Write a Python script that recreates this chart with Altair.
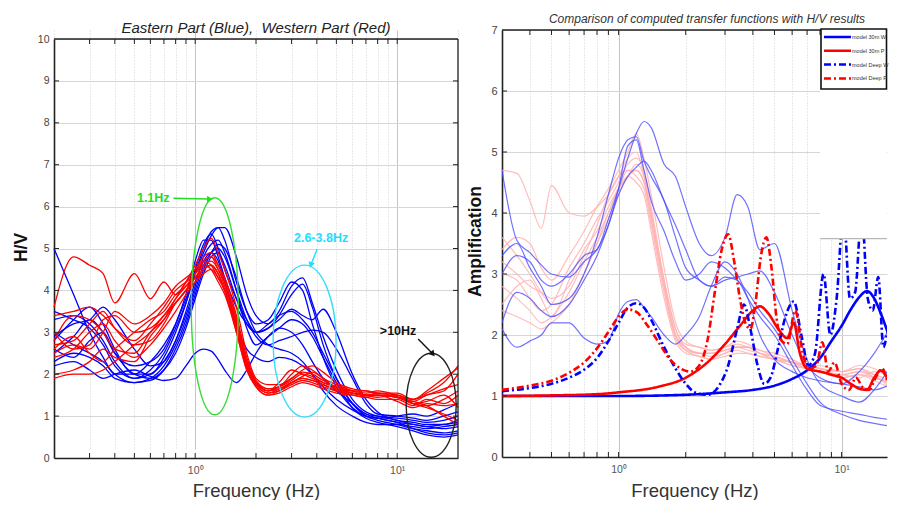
import altair as alt
import pandas as pd

FONT = "Liberation Sans"

# ---------------- LEFT PANEL DATA (H/V curves) ----------------
L_FREQ = [0.2, 0.25, 0.3, 0.35, 0.4, 0.5, 0.6, 0.7, 0.8, 0.9,
          1.0, 1.1, 1.2, 1.3, 1.4, 1.6, 1.8, 2.0, 2.3, 2.6,
          3.0, 3.4, 3.8, 4.3, 5, 6, 7, 8, 10, 12, 14, 17, 20]

L_EAST = [
    [5.0, 3.9, 3.0, 2.4, 2.0, 2.0, 2.3, 2.7, 3.2, 3.8,
     4.4, 4.9, 5.3, 5.5, 5.5, 4.8, 3.9, 3.4, 3.2, 3.5,
     4.1, 4.3, 3.7, 2.9, 2.1, 1.4, 1.1, 1.0, 0.9, 0.8, 0.75, 0.7, 0.75],
    [3.5, 3.3, 3.1, 2.7, 2.2, 1.9, 2.1, 2.5, 3.1, 3.7,
     4.4, 5.0, 5.4, 5.5, 5.2, 4.2, 3.5, 3.2, 3.3, 3.7,
     4.2, 4.0, 3.2, 2.4, 1.7, 1.2, 1.0, 0.95, 0.85, 0.7, 0.6, 0.55, 0.6],
    [2.8, 3.3, 3.6, 3.2, 2.6, 2.0, 2.0, 2.4, 3.0, 3.7,
     4.5, 5.1, 5.35, 5.0, 4.5, 3.8, 3.3, 3.0, 3.1, 3.3,
     3.55, 3.4, 3.3, 3.55, 3.0, 2.0, 1.4, 1.1, 0.9, 0.85, 0.8, 0.8, 0.9],
    [2.5, 2.9, 3.3, 3.0, 2.5, 2.2, 2.3, 2.6, 3.2, 3.9,
     4.7, 5.2, 5.2, 4.8, 4.3, 3.6, 3.2, 3.0, 3.2, 3.4,
     3.5, 3.3, 3.0, 2.5, 1.9, 1.3, 1.0, 0.9, 0.8, 0.7, 0.65, 0.6, 0.65],
    [2.3, 2.5, 2.4, 2.2, 1.9, 1.8, 1.9, 2.2, 2.7, 3.3,
     4.0, 4.6, 4.9, 5.0, 4.8, 4.0, 3.3, 2.9, 2.7, 2.8,
     2.9, 3.0, 3.05, 3.0, 2.6, 1.9, 1.3, 1.05, 1.0, 0.95, 0.9, 1.0, 1.1],
    [3.3, 3.4, 3.2, 2.8, 2.3, 1.9, 2.0, 2.3, 2.8, 3.5,
     4.2, 4.7, 4.9, 4.7, 4.2, 3.2, 2.6, 2.4, 2.3, 2.4,
     2.35, 2.2, 2.0, 1.7, 1.4, 1.15, 1.0, 0.95, 1.0, 1.05, 1.0, 1.15, 1.3],
    [2.9, 3.2, 3.3, 3.6, 3.3, 2.6, 2.2, 2.3, 2.8, 3.4,
     4.1, 4.8, 5.1, 5.2, 4.9, 4.0, 3.1, 2.7, 2.9, 3.1,
     3.3, 3.2, 2.9, 2.4, 1.8, 1.2, 0.95, 0.85, 0.75, 0.65, 0.55, 0.5, 0.55],
    [3.0, 2.7, 2.5, 2.3, 2.0, 1.8, 1.85, 2.1, 2.6, 3.2,
     3.9, 4.5, 4.9, 5.1, 5.0, 4.3, 3.5, 3.0, 2.7, 2.6,
     2.5, 2.3, 2.0, 1.6, 1.25, 1.0, 0.85, 0.8, 0.8, 0.75, 0.7, 0.75, 0.8],
    [2.6, 2.4, 2.8, 3.0, 2.5, 2.0, 1.9, 2.1, 2.5, 3.1,
     3.8, 4.4, 4.8, 4.9, 4.6, 3.8, 3.2, 3.0, 3.1, 3.4,
     3.9, 4.15, 3.6, 2.7, 1.9, 1.3, 1.05, 0.95, 0.85, 0.8, 0.75, 0.8, 0.85],
    [2.2, 2.3, 2.1, 1.9, 2.0, 2.1, 1.95, 1.85, 1.9, 2.2,
     2.5, 2.6, 2.55, 2.35, 2.1, 1.8, 2.1, 2.5, 2.9, 3.1,
     3.0, 2.7, 2.3, 1.9, 1.6, 1.3, 1.05, 1.0, 0.95, 0.9, 0.85, 0.9, 1.0],
]

L_WEST = [
    [3.6, 4.8, 4.6, 4.4, 3.7, 4.4, 3.8, 4.2, 3.9, 4.2,
     4.6, 5.0, 5.25, 4.9, 4.5, 3.6, 2.5, 1.9, 1.75, 1.75,
     1.9, 2.1, 2.2, 2.05, 1.8, 1.65, 1.6, 1.55, 1.55, 1.4, 1.55, 1.8, 2.2],
    [2.8, 3.4, 3.3, 3.0, 2.6, 2.5, 3.0, 3.3, 3.7, 4.0,
     4.4, 4.7, 4.8, 4.6, 4.2, 3.3, 2.3, 1.8, 1.65, 1.7,
     2.0, 2.2, 2.1, 1.9, 1.75, 1.6, 1.5, 1.5, 1.45, 1.35, 1.5, 1.6, 2.0],
    [2.6, 2.9, 2.5, 2.3, 2.6, 3.0, 3.3, 3.5, 3.9, 4.1,
     4.3, 4.5, 4.6, 4.4, 4.0, 3.1, 2.2, 1.75, 1.55, 1.6,
     1.8, 1.9, 1.85, 1.75, 1.6, 1.55, 1.5, 1.45, 1.5, 1.3, 1.25, 1.4, 1.6],
    [2.0, 2.1, 2.3, 2.6, 2.4, 2.3, 2.9, 3.3, 3.8, 4.2,
     4.5, 4.7, 4.6, 4.3, 4.0, 3.0, 2.1, 1.7, 1.5, 1.55,
     1.7, 1.8, 1.75, 1.65, 1.55, 1.5, 1.45, 1.5, 1.35, 1.2, 1.3, 1.25, 1.3],
    [2.7, 2.8, 3.2, 3.5, 3.1, 2.7, 2.8, 3.2, 3.7, 4.0,
     4.3, 4.6, 4.7, 4.5, 4.1, 3.2, 2.3, 1.8, 1.6, 1.8,
     2.1, 2.0, 1.9, 1.8, 1.7, 1.6, 1.55, 1.6, 1.5, 1.4, 1.6, 1.9, 2.15],
    [2.4, 2.6, 3.0, 3.2, 2.8, 2.4, 2.7, 3.1, 3.5, 3.9,
     4.2, 4.5, 4.6, 4.4, 4.0, 3.1, 2.2, 1.75, 1.55, 1.65,
     1.8, 1.95, 2.05, 1.9, 1.65, 1.55, 1.5, 1.55, 1.45, 1.3, 1.2, 1.05, 0.9],
    [3.0, 2.6, 2.7, 3.3, 3.4, 3.0, 3.1, 3.4, 3.8, 4.1,
     4.4, 4.6, 4.5, 4.2, 3.9, 3.0, 2.1, 1.7, 1.5, 1.6,
     1.75, 1.85, 1.8, 1.7, 1.6, 1.5, 1.45, 1.4, 1.4, 1.25, 1.4, 1.3, 1.5],
    [1.9, 2.0, 2.0, 2.1, 2.3, 2.7, 3.0, 3.4, 3.7, 4.0,
     4.2, 4.4, 4.5, 4.3, 4.0, 3.1, 2.2, 1.8, 1.6, 1.7,
     1.9, 2.05, 2.0, 1.85, 1.7, 1.55, 1.5, 1.5, 1.45, 1.35, 1.25, 1.0, 0.8],
    [2.5, 2.7, 2.6, 3.0, 3.5, 3.2, 3.4, 3.7, 4.1, 4.3,
     4.5, 4.8, 4.9, 4.6, 4.3, 3.4, 2.4, 1.85, 1.65, 1.7,
     1.85, 2.0, 1.95, 1.8, 1.7, 1.6, 1.6, 1.55, 1.5, 1.4, 1.5, 1.65, 1.75],
    [3.4, 3.5, 3.6, 3.4, 3.1, 2.8, 3.2, 3.6, 4.0, 4.2,
     4.4, 4.7, 4.8, 4.5, 4.2, 3.3, 2.3, 1.8, 1.6, 1.65,
     1.8, 1.9, 1.85, 1.75, 1.65, 1.55, 1.5, 1.5, 1.45, 1.3, 1.35, 1.5, 1.2],
]

# annotation values (left panel); the last ellipse is anchored at its left edge
ELL_F = [1.25, 3.48, 11.08]
ELL_V = [3.62, 2.79, 1.26]
ELL_COLOR = ["#33dd33", "#33ddff", "#222222"]
ANN_TEXT = ["1.1Hz", "2.6-3.8Hz", ">10Hz"]
ANN_TEXT_F = [0.62, 4.2, 10.1]
ANN_TEXT_V = [6.2, 5.25, 3.03]
ANN_TEXT_COLOR = ["#22dd22", "#22ddff", "#111111"]
ARROW_F0 = [0.78, 4.02, 12.7]
ARROW_V0 = [6.2, 4.99, 2.84]
ARROW_F1 = [1.17, 3.75, 14.9]
ARROW_V1 = [6.18, 4.63, 2.5]

# ---------------- RIGHT PANEL DATA ----------------
R_FREQ = [0.3, 0.35, 0.4, 0.45, 0.5, 0.6, 0.7, 0.8, 0.9,
          1.0, 1.1, 1.2, 1.3, 1.4, 1.6, 1.8, 2.0, 2.3, 2.6,
          3.0, 3.4, 3.8, 4.3, 5, 6, 7, 8, 10, 12, 14, 17, 19]

R_HV_EAST = [
    [3.0, 3.3, 3.2, 2.9, 2.8, 3.0, 3.3, 3.4, 3.9,
     4.4, 4.9, 5.3, 5.5, 5.4, 4.8, 4.6, 4.1, 3.5, 3.3,
     3.6, 4.3, 4.1, 3.4, 3.5, 2.4, 1.6, 1.2, 1.0, 0.9, 1.1, 1.6, 2.1],
    [4.7, 3.55, 3.35, 3.15, 3.0, 2.95, 3.2, 3.4, 3.8,
     4.4, 5.1, 5.2, 4.7, 4.2, 3.7, 3.2, 2.9, 3.0, 3.2,
     3.1, 2.9, 2.7, 2.4, 2.1, 1.6, 1.2, 0.9, 0.7, 0.6, 0.55, 0.5, 0.48],
    [3.3, 3.5, 3.1, 2.8, 2.5, 2.6, 3.0, 3.6, 4.3,
     4.9, 5.2, 5.25, 4.85, 4.6, 4.2, 3.6, 3.1, 2.9, 2.8,
     2.95, 2.9, 2.6, 2.3, 2.0, 1.5, 1.1, 0.85, 0.75, 0.7, 0.65, 0.6, 0.55],
    [2.2, 2.7, 2.6, 2.4, 2.3, 2.5, 2.9, 3.3, 3.8,
     4.3, 4.6, 4.75, 4.85, 4.7, 4.2, 3.8, 3.4, 2.9, 2.8,
     2.9, 2.95, 3.0, 3.05, 2.7, 2.0, 1.5, 1.3, 1.2, 1.4, 1.7, 2.2, 2.5],
    [2.1, 1.8, 1.9, 2.0, 2.2, 2.2, 1.95, 1.85, 1.9,
     2.35, 2.55, 2.58, 2.45, 2.3, 2.0, 1.85, 2.0, 2.3, 2.8,
     3.2, 3.0, 2.6, 2.0, 1.6, 1.4, 1.3, 1.25, 1.2, 1.15, 1.1, 1.2, 1.25],
]

R_HV_WEST = [
    [4.7, 4.65, 4.2, 3.75, 4.45, 4.0, 3.95, 4.1, 4.3,
     4.6, 4.9, 5.0, 4.6, 4.0, 2.9, 2.1, 1.85, 1.8, 1.75,
     1.8, 1.9, 1.85, 1.75, 1.7, 1.6, 1.5, 1.5, 1.4, 1.45, 1.35, 1.1, 1.0],
    [3.4, 3.6, 3.5, 3.1, 2.9, 3.3, 3.7, 4.1, 4.4,
     4.7, 5.0, 5.3, 4.9, 4.3, 3.1, 2.2, 1.9, 1.8, 1.75,
     1.8, 1.85, 1.8, 1.7, 1.65, 1.55, 1.5, 1.45, 1.4, 1.45, 1.3, 1.2, 1.1],
    [3.0, 2.9, 2.6, 2.4, 2.5, 3.1, 3.5, 3.9, 4.2,
     4.5, 4.8, 4.9, 4.7, 4.1, 2.9, 2.1, 1.8, 1.7, 1.7,
     1.75, 1.8, 1.8, 1.7, 1.6, 1.55, 1.45, 1.4, 1.35, 1.3, 1.4, 1.3, 1.0],
    [2.5, 2.8, 2.9, 2.6, 2.3, 2.9, 3.4, 3.7, 4.1,
     4.4, 4.6, 4.8, 4.6, 4.0, 2.8, 2.0, 1.75, 1.65, 1.6,
     1.7, 1.75, 1.7, 1.65, 1.6, 1.5, 1.45, 1.4, 1.3, 1.35, 1.25, 1.1, 0.95],
    [3.2, 3.0, 2.8, 2.7, 2.6, 2.8, 3.3, 3.8, 4.3,
     4.6, 4.7, 4.6, 4.4, 3.8, 2.7, 1.95, 1.75, 1.7, 1.7,
     1.75, 1.8, 1.75, 1.7, 1.6, 1.55, 1.5, 1.45, 1.4, 1.5, 1.45, 1.25, 1.05],
    [2.8, 2.6, 2.4, 2.2, 2.3, 2.7, 3.2, 3.6, 4.0,
     4.4, 4.7, 4.7, 4.5, 3.9, 2.8, 2.0, 1.8, 1.7, 1.65,
     1.7, 1.8, 1.8, 1.75, 1.65, 1.55, 1.5, 1.45, 1.35, 1.4, 1.3, 1.15, 0.9],
    [3.6, 3.3, 3.0, 2.7, 2.5, 2.6, 3.0, 3.5, 4.0,
     4.4, 4.6, 4.5, 4.3, 3.7, 2.6, 1.9, 1.7, 1.65, 1.6,
     1.65, 1.7, 1.7, 1.65, 1.6, 1.5, 1.45, 1.4, 1.3, 1.35, 1.3, 1.2, 0.95],
    [2.4, 2.3, 2.2, 2.1, 2.2, 2.5, 3.0, 3.5, 3.9,
     4.3, 4.6, 4.7, 4.5, 3.9, 2.8, 2.0, 1.8, 1.7, 1.7,
     1.75, 1.8, 1.8, 1.7, 1.65, 1.55, 1.45, 1.4, 1.35, 1.4, 1.35, 1.2, 1.0],
]

MODEL_NAMES = ["model 30m W", "model 30m P", "model Deep W", "model Deep P"]
MODEL_COLORS = ["#0000ff", "#ff0000", "#0000ff", "#ff0000"]
MODEL_DASH = [[1, 0], [1, 0], [7, 3, 2, 3], [7, 3, 2, 3]]

W30_F = [0.3, 0.5, 1, 2, 3, 4, 5, 6, 7, 8, 9, 10, 11, 12, 13, 14, 15, 17, 19]
W30_V = [1.0, 1.0, 1.0, 1.02, 1.06, 1.1, 1.17, 1.28, 1.42, 1.62, 1.9, 2.15, 2.42, 2.62, 2.72,
         2.6, 2.35, 1.8, 1.35]

P30_F = [0.3, 0.5, 0.8, 1.0, 1.5, 2.0, 2.5, 3.0, 3.5, 4.0, 4.3, 4.7, 5.2, 5.7, 6.1, 6.5, 7.0,
         8.0, 9.0, 10, 11, 12, 13, 14, 15, 16, 17, 18, 19]
P30_V = [1.0, 1.01, 1.03, 1.06, 1.15, 1.3, 1.55, 1.85, 2.15, 2.4, 2.47, 2.35, 2.1, 1.95, 2.2,
         1.7, 1.45, 1.4, 1.35, 1.3, 1.2, 1.12, 1.1, 1.3, 1.42, 1.3, 1.15, 1.0, 0.85]

WD_F = [0.3, 0.4, 0.5, 0.6, 0.7, 0.8, 0.9, 1.0, 1.1, 1.2, 1.3, 1.4, 1.6, 1.8, 2.0, 2.2, 2.5,
        2.8, 3.1, 3.4, 3.65, 3.9, 4.2, 4.5, 4.8, 5.2, 5.6, 6.1, 6.6, 7.1, 7.6, 8.3, 8.9, 9.5,
        10.2, 10.9, 11.5, 12.3, 13.1, 13.8, 14.6, 15.4, 16.3, 17.3, 18.2, 19]
WD_V = [1.08, 1.13, 1.2, 1.3, 1.43, 1.62, 1.9, 2.2, 2.45, 2.52, 2.45, 2.25, 1.8, 1.45, 1.2,
        1.06, 1.02, 1.15, 1.5, 2.1, 2.5, 2.1, 1.5, 1.2, 1.3, 1.8, 2.3, 2.55, 2.0, 1.5, 1.7,
        3.0, 2.0, 2.6, 4.0, 2.6, 2.7, 4.0, 2.6, 2.4, 2.95, 1.8, 2.1, 1.5, 1.3, 1.2]

PD_F = [0.3, 0.4, 0.5, 0.6, 0.7, 0.8, 0.9, 1.0, 1.1, 1.2, 1.35, 1.5, 1.7, 1.9, 2.1, 2.3, 2.5,
        2.7, 2.9, 3.1, 3.3, 3.5, 3.7, 3.9, 4.1, 4.35, 4.6, 4.85, 5.1, 5.4, 5.7, 6.2, 6.7, 7.2,
        7.7, 8.2, 8.7, 9.3, 10, 10.8, 11.6, 12.4, 13.3, 14.2, 15.2, 16.2, 17.3, 18.3, 19]
PD_V = [1.1, 1.17, 1.25, 1.38, 1.55, 1.78, 2.05, 2.3, 2.42, 2.38, 2.15, 1.9, 1.6, 1.45, 1.4,
        1.5, 1.9, 2.7, 3.4, 3.65, 3.2, 2.6, 2.2, 2.1, 2.5, 3.3, 3.6, 3.1, 2.3, 1.9, 1.85, 2.4,
        1.7, 1.45, 1.5, 1.88, 1.4, 1.55, 1.2, 1.1, 1.3, 1.15, 1.1, 1.3, 1.45, 1.2, 0.95, 0.75, 0.65]

LEFT_TICKS = [0.2, 0.3, 0.4, 0.5, 0.6, 0.7, 0.8, 0.9, 1, 2, 3, 4, 5, 6, 7, 8, 9, 10, 20]
RIGHT_TICKS = [0.3, 0.4, 0.5, 0.6, 0.7, 0.8, 0.9, 1, 2, 3, 4, 5, 6, 7, 8, 9, 10]

LEFT_TITLE = "Eastern Part (Blue),\u00a0 Western Part (Red)"
RIGHT_TITLE = "Comparison of computed transfer functions with H/V results"


def long_df(freqs, series, prefix):
    rows = []
    for i, vals in enumerate(series):
        for f, v in zip(freqs, vals):
            rows.append({"id": f"{prefix}{i}", "f": f, "v": v})
    return pd.DataFrame(rows)


def ellipse_path(ratio, dx=0.0):
    k = 0.5523
    a = ratio

    def p(x, y):
        return f"{x + dx:.4f} {y:.4f}"
    return (f"M {p(a, 0)} C {p(a, k)} {p(a*k, 1)} {p(0, 1)} C {p(-a*k, 1)} {p(-a, k)} {p(-a, 0)} "
            f"C {p(-a, -k)} {p(-a*k, -1)} {p(0, -1)} C {p(a*k, -1)} {p(a, -k)} {p(a, 0)} Z")


MAJOR = "datum.value == 1 || datum.value == 10"
LABEL_EXPR = "datum.value == 1 ? '10\u2070' : datum.value == 10 ? '10\u00b9' : ''"


def x_axis(values, title_y):
    return alt.Axis(
        values=values, labelExpr=LABEL_EXPR, labelOverlap=False, grid=True,
        gridColor={"condition": {"test": MAJOR, "value": "#c4c4c4"}, "value": "#d2d2d2"},
        gridDash={"condition": {"test": MAJOR, "value": []}, "value": [1, 2]},
        ticks=False, domainColor="#222", domainWidth=1.3, labelFont=FONT,
        labelFontSize=10.5, labelColor="#555", labelPadding=7,
        title="Frequency (Hz)", titleFont=FONT, titleFontSize=18.5,
        titleFontWeight="normal", titleColor="#333", titleY=title_y,
        titleBaseline="middle")


def y_axis(values, title, tx, ty, lsize):
    return alt.Axis(
        values=values, grid=True, gridColor="#d6d6d6", ticks=False,
        domainColor="#222", domainWidth=1.6, labelFont=FONT, labelFontSize=lsize,
        labelColor="#444", labelPadding=5, title=title, titleFont=FONT,
        titleFontSize=17.5, titleFontWeight="bold", titleColor="#111",
        titleX=tx, titleY=ty, titleBaseline="middle")


dummy = pd.DataFrame({"a": [0]})

# ================= LEFT PANEL =================
# the left plot starts TOP px lower than the right one; its y range leaves that gap
TOP = 9
LW, LH = 404, 428
LXS = alt.Scale(type="log", domain=[0.2, 20], nice=False)
LYS = alt.Scale(domain=[0, 10], nice=False, range=[LH, TOP])
LXA = x_axis(LEFT_TICKS, 32)
LYA = y_axis(list(range(0, 11)), "H/V", -33, 217, 10.5)
LX = alt.X("f:Q", scale=LXS, axis=LXA)
LY = alt.Y("v:Q", scale=LYS, axis=LYA)

df_lb = long_df(L_FREQ, L_EAST, "e")
df_lr = long_df(L_FREQ, L_WEST, "w")

l_blue = alt.Chart(df_lb).mark_line(color="#0000ff", strokeWidth=1.3, interpolate="monotone").encode(
    x=LX, y=LY, detail="id:N")
l_red = alt.Chart(df_lr).mark_line(color="#ff0000", strokeWidth=1.3, interpolate="monotone").encode(
    x=LX, y=LY, detail="id:N")

r3 = 25 / 52
ell_shapes = [ellipse_path(23.5 / 108.5), ellipse_path(31.5 / 76), ellipse_path(r3, r3)]
ell_sizes = [217 ** 2, 152 ** 2, 104 ** 2]
df_ell = pd.DataFrame({"f": ELL_F, "v": ELL_V, "shape": ell_shapes, "size": ell_sizes,
                       "color": ELL_COLOR})
l_ell = alt.Chart(df_ell).mark_point(filled=False, strokeWidth=1.4, opacity=1).encode(
    x=LX, y=LY, shape=alt.Shape("shape:N", scale=None), size=alt.Size("size:Q", scale=None),
    color=alt.Color("color:N", scale=None))

arrow_rows = []
for i in range(3):
    arrow_rows.append({"id": i, "f": ARROW_F0[i], "v": ARROW_V0[i], "color": ANN_TEXT_COLOR[i]})
    arrow_rows.append({"id": i, "f": ARROW_F1[i], "v": ARROW_V1[i], "color": ANN_TEXT_COLOR[i]})
df_arrow = pd.DataFrame(arrow_rows)
l_arrow = alt.Chart(df_arrow).mark_line(strokeWidth=1.4).encode(
    x=LX, y=LY, detail="id:N", color=alt.Color("color:N", scale=None))

df_head = pd.DataFrame({"f": ARROW_F1, "v": ARROW_V1, "angle": [92, 198, 140],
                        "color": ANN_TEXT_COLOR})
l_head = alt.Chart(df_head).mark_point(shape="triangle", filled=True, size=45, opacity=1).encode(
    x=LX, y=LY, angle=alt.Angle("angle:Q", scale=None), color=alt.Color("color:N", scale=None))

df_txt = pd.DataFrame({"f": ANN_TEXT_F, "v": ANN_TEXT_V, "t": ANN_TEXT, "color": ANN_TEXT_COLOR})
l_txt = alt.Chart(df_txt).mark_text(font=FONT, fontSize=12.5, fontWeight="bold").encode(
    x=LX, y=LY, text="t:N", color=alt.Color("color:N", scale=None))

df_ltick = pd.DataFrame({"f": [t for t in LEFT_TICKS if 0.2 < t < 20]})
l_tick_top = alt.Chart(df_ltick).mark_tick(color="#222", thickness=1, size=5, opacity=1).encode(
    x=LX, y=alt.value(TOP + 2.5))
l_tick_bot = alt.Chart(df_ltick).mark_tick(color="#222", thickness=1, size=5, opacity=1).encode(
    x=LX, y=alt.value(LH - 2.5))
df_lyt = pd.DataFrame({"v": list(range(1, 10))})
l_ytick_l = alt.Chart(df_lyt).mark_tick(color="#222", thickness=1, size=5, opacity=1).encode(
    y=LY, x=alt.value(2.5))
l_ytick_r = alt.Chart(df_lyt).mark_tick(color="#222", thickness=1, size=5, opacity=1).encode(
    y=LY, x=alt.value(LW - 2.5))

# frame: top and right borders of the left plot
l_top = alt.Chart(dummy).mark_rule(color="#222", strokeWidth=1.3).encode(
    x=alt.value(0), x2=alt.value(LW), y=alt.value(TOP))
l_right = alt.Chart(dummy).mark_rule(color="#222", strokeWidth=1.3).encode(
    x=alt.value(LW), y=alt.value(TOP), y2=alt.value(LH))

l_title = alt.Chart(dummy).mark_text(font=FONT, fontSize=15, fontStyle="italic",
                                     color="#222", baseline="middle").encode(
    x=alt.value(LW / 2), y=alt.value(TOP - 11.5), text=alt.value(LEFT_TITLE))

l_bound = alt.Chart(dummy).mark_rule(opacity=0).encode(
    x=alt.value(-45), x2=alt.value(-44), y=alt.value(-21))

left = alt.layer(l_blue, l_red, l_ell, l_arrow, l_head, l_txt, l_tick_top, l_tick_bot,
                 l_ytick_l, l_ytick_r, l_top, l_right, l_title, l_bound).properties(
    width=LW, height=LH,
    view=alt.ViewBackground(stroke="transparent"))

# ================= RIGHT PANEL =================
# 223 px per decade; the original right panel is cut by the page edge
RW, RH = 385, 427
RMAX = 0.3 * 10 ** (RW / 223)
RXS = alt.Scale(type="log", domain=[0.3, RMAX], nice=False)
RYS = alt.Scale(domain=[0, 7], nice=False)
RXA = x_axis(RIGHT_TICKS, 33)
RYA = y_axis(list(range(0, 8)), "Amplification", -26.5, 211, 11)
RX = alt.X("f:Q", scale=RXS, axis=RXA)
RY = alt.Y("v:Q", scale=RYS, axis=RYA)

# masked area of the original figure (upper right corner)
MASK_F = [8.0, RMAX]
MASK_V = [3.58, 7.0]

df_rp = long_df(R_FREQ, R_HV_WEST, "p")
df_rb = long_df(R_FREQ, R_HV_EAST, "b")
r_pink = alt.Chart(df_rp).mark_line(color="#ffb3b3", strokeWidth=1.2, opacity=0.85,
                                    interpolate="monotone", clip=True).encode(
    x=RX, y=RY, detail="id:N")
r_blue = alt.Chart(df_rb).mark_line(color="#4d4dff", strokeWidth=1.2, opacity=0.8,
                                    interpolate="monotone", clip=True).encode(
    x=RX, y=RY, detail="id:N")

model_rows = []
for name, fs, vs in zip(MODEL_NAMES, [W30_F, P30_F, WD_F, PD_F], [W30_V, P30_V, WD_V, PD_V]):
    for f, v in zip(fs, vs):
        model_rows.append({"model": name, "f": f, "v": v})
df_model = pd.DataFrame(model_rows)

r_model = alt.Chart(df_model).mark_line(strokeWidth=2.6, interpolate="monotone", clip=True).encode(
    x=RX, y=RY, detail="model:N",
    color=alt.Color("model:N", scale=alt.Scale(domain=MODEL_NAMES, range=MODEL_COLORS), legend=None),
    strokeDash=alt.StrokeDash("model:N", scale=alt.Scale(domain=MODEL_NAMES, range=MODEL_DASH),
                              legend=None))

df_mask = pd.DataFrame({"f1": [MASK_F[0]], "f2": [MASK_F[1]], "v1": [MASK_V[0]], "v2": [MASK_V[1]]})
r_mask = alt.Chart(df_mask).mark_rect(color="white", clip=True).encode(
    x=alt.X("f1:Q", scale=RXS, axis=RXA), x2="f2:Q",
    y=alt.Y("v1:Q", scale=RYS, axis=RYA), y2="v2:Q")
r_mask_line = alt.Chart(df_mask).mark_rule(color="#b8b8b8", strokeWidth=1.2, clip=True).encode(
    x=alt.X("f1:Q", scale=RXS, axis=RXA), x2="f2:Q",
    y=alt.Y("v1:Q", scale=RYS, axis=RYA))

df_rtick = pd.DataFrame({"f": [t for t in RIGHT_TICKS if t > 0.3]})
r_tick_top = alt.Chart(df_rtick).mark_tick(color="#222", thickness=1, size=5, opacity=1).encode(
    x=RX, y=alt.value(2.5))
r_tick_bot = alt.Chart(df_rtick).mark_tick(color="#222", thickness=1, size=5, opacity=1).encode(
    x=RX, y=alt.value(RH - 2.5))
df_ryt = pd.DataFrame({"v": list(range(1, 7))})
r_ytick = alt.Chart(df_ryt).mark_tick(color="#222", thickness=1, size=5, opacity=1).encode(
    y=RY, x=alt.value(2.5))
r_top = alt.Chart(dummy).mark_rule(color="#222", strokeWidth=1.5).encode(
    x=alt.value(0), x2=alt.value(RW), y=alt.value(0))
r_title = alt.Chart(dummy).mark_text(font=FONT, fontSize=12, fontStyle="italic",
                                     color="#333", baseline="middle").encode(
    x=alt.value(205), y=alt.value(-11), text=alt.value(RIGHT_TITLE))
r_bound = alt.Chart(dummy).mark_rule(opacity=0).encode(
    x=alt.value(-36), x2=alt.value(-35), y=alt.value(-21))

# legend box drawn inside the right panel (upper right corner)
LEG_X0, LEG_Y0, LEG_ROW = 319, -1, 13.8
leg_layers = [alt.Chart(dummy).mark_rect(fill="white", stroke="#111", strokeWidth=1.6).encode(
    x=alt.value(LEG_X0), x2=alt.value(RW - 0.5), y=alt.value(LEG_Y0), y2=alt.value(LEG_Y0 + 60))]
for i, name in enumerate(MODEL_NAMES):
    yy = LEG_Y0 + 8 + i * LEG_ROW
    leg_layers.append(alt.Chart(dummy).mark_rule(
        color=MODEL_COLORS[i], strokeWidth=2.5, strokeDash=MODEL_DASH[i]).encode(
        x=alt.value(LEG_X0 + 3), x2=alt.value(LEG_X0 + 30), y=alt.value(yy)))
    leg_layers.append(alt.Chart(dummy).mark_text(
        font=FONT, fontSize=5.5, color="#333", align="left", baseline="middle").encode(
        x=alt.value(LEG_X0 + 31), y=alt.value(yy), text=alt.value(name)))

right = alt.layer(r_pink, r_blue, r_model, r_mask, r_mask_line, r_tick_top, r_tick_bot,
                  r_ytick, r_top, r_title, r_bound, *leg_layers).properties(
    width=RW, height=RH,
    view=alt.ViewBackground(stroke="transparent"))

# "flush" bounds: cells are spaced by their plot areas only (44 px between the plots)
chart = alt.hconcat(left, right, spacing=44, bounds="flush").properties(
    padding=0, background="white")

chart.save("out.html", embed_options={"renderer": "svg", "actions": False})
